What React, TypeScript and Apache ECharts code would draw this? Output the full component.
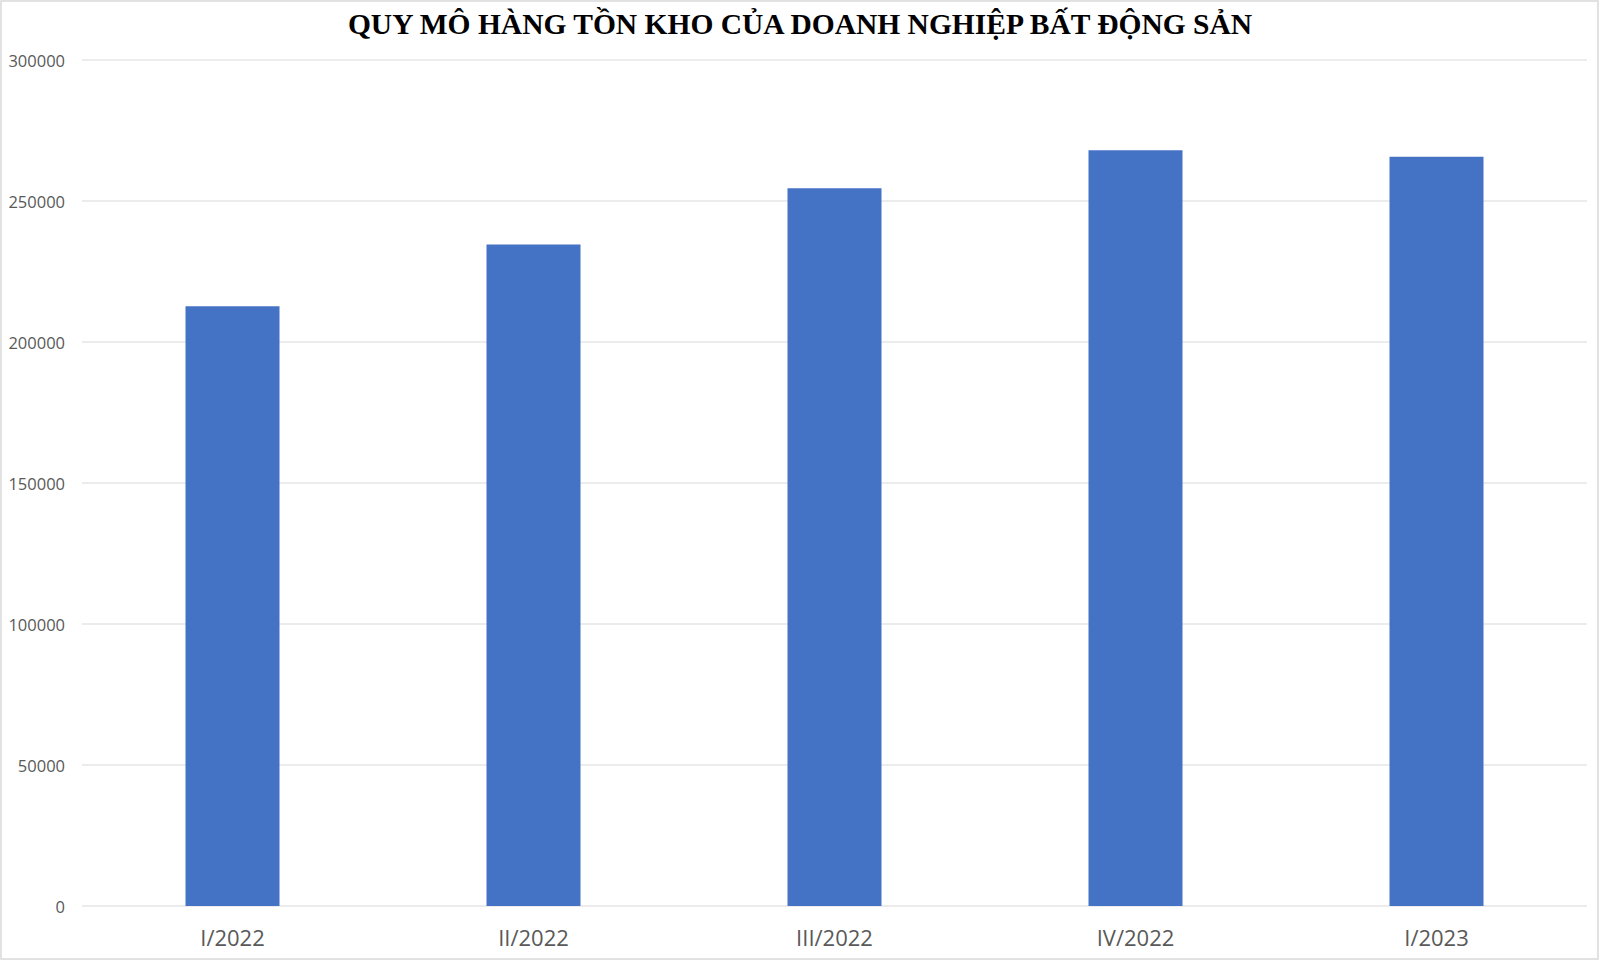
import React, { useEffect, useRef } from "react";
import * as echarts from "echarts";

const TITLE = "QUY MÔ HÀNG TỒN KHO CỦA DOANH NGHIỆP BẤT ĐỘNG SẢN";
const categories = ["I/2022", "II/2022", "III/2022", "IV/2022", "I/2023"];
const inventoryValues = [212700, 234600, 254500, 268000, 265700];
const yTicks = { min: 0, max: 300000, interval: 50000 };

export default function App() {
  const ref = useRef<HTMLDivElement>(null);
  useEffect(() => {
    document.body.style.margin = "0";
    const chart = echarts.init(ref.current!, null, { renderer: "svg" });
    chart.setOption({
      animation: false,
      backgroundColor: "#ffffff",
      title: {
        text: TITLE,
        left: "center",
        top: 4,
        textStyle: {
          fontFamily: "Liberation Serif",
          fontWeight: "bold",
          fontSize: 29.5,
          color: "#000000",
        },
      },
      grid: { left: 82, right: 13, top: 60, bottom: 55, containLabel: false },
      xAxis: {
        type: "category",
        data: categories,
        axisLine: { show: false },
        axisTick: { show: false },
        axisLabel: {
          color: "#595959",
          fontFamily: "Open Sans",
          fontSize: 22,
          margin: 20,
        },
      },
      yAxis: {
        type: "value",
        min: yTicks.min,
        max: yTicks.max,
        interval: yTicks.interval,
        axisLine: { show: false },
        axisTick: { show: false },
        splitLine: { lineStyle: { color: "#e6e6e6", width: 1.5 } },
        axisLabel: {
          color: "#595959",
          fontFamily: "Open Sans",
          fontSize: 16.5,
          margin: 17,
          formatter: (v: number) => String(v),
        },
      },
      graphic: [
        {
          type: "rect",
          shape: { x: 1, y: 1, width: 1597, height: 958 },
          style: { fill: "none", stroke: "#d9d9d9", lineWidth: 1.5 },
          silent: true,
        },
      ],
      series: [
        {
          type: "bar",
          data: inventoryValues,
          barWidth: 94,
          itemStyle: { color: "#4472C4" },
        },
      ],
    });
    return () => chart.dispose();
  }, []);
  return <div ref={ref} style={{ width: 1600, height: 961 }} />;
}
